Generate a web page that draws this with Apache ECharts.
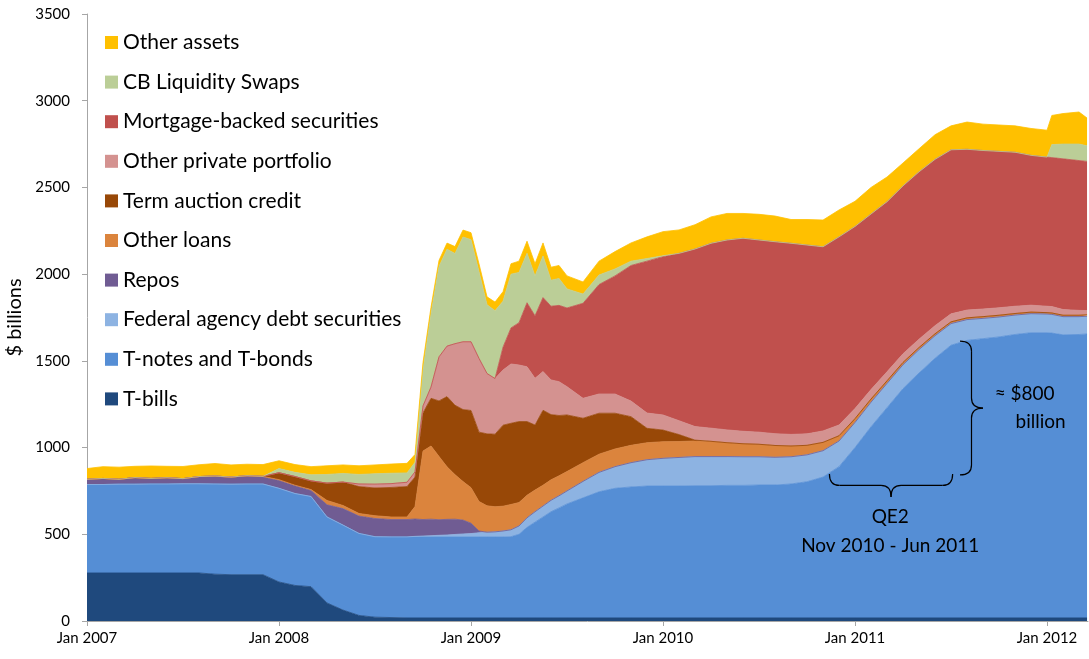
<!DOCTYPE html>
<html>
<head>
<meta charset="utf-8">
<title>Fed balance sheet assets</title>
<script src="https://cdn.jsdelivr.net/npm/echarts@6/dist/echarts.min.js"></script>
<style>
  html, body { margin: 0; padding: 0; background: #fff; }
  #chart { width: 1089px; height: 659px; }
</style>
</head>
<body>
<div id="chart"></div>
<script>
// x positions: months since Jan 2007 (semi-monthly through the 2008-09 crisis)
const months = [
  0, 1, 2, 3, 4, 5, 6, 7, 8, 9, 10, 11, 12, 13, 14, 15, 16, 17, 18, 19,
  20, 20.5, 21, 21.5, 22, 22.5, 23, 23.5, 24, 24.5, 25, 25.5, 26, 26.5, 27, 27.5, 28, 28.5, 29, 29.5, 30,
  31, 32, 33, 34, 35, 36, 37, 38, 39, 40, 41, 42, 43, 44, 45, 46, 47, 48, 49, 50,
  51, 52, 53, 54, 55, 56, 57, 58, 59, 60,
  60.3, 61, 62, 62.5
];
const yearTicks = [0, 12, 24, 36, 48, 60];

// $ billions, bottom layer first
const tBills = [
  277, 277, 277, 277, 277, 277, 277, 277, 270, 267, 267, 267, 225, 205, 198, 104, 63, 32, 22, 20,
  18, 18, 18, 18, 18, 18, 18, 18, 18, 18, 18, 18, 18, 18, 18, 18, 18, 18, 18, 18, 18,
  18, 18, 18, 18, 18, 18, 18, 18, 18, 18, 18, 18, 18, 18, 18, 18, 18, 18, 18, 18,
  18, 18, 18, 18, 18, 18, 18, 18, 18, 18,
  18, 18, 18, 18
];
const tNotes = [
  510, 510, 512, 512, 513, 513, 514, 514, 520, 522, 523, 523, 540, 530, 520, 496, 490, 473, 464, 465,
  467, 467, 467, 466, 466, 466, 466, 466, 466, 466, 466, 466, 466, 468, 482, 522, 552, 582, 612, 634, 657,
  692, 727, 747, 755, 760, 760, 760, 762, 762, 764, 764, 766, 766, 772, 785, 812, 872, 982, 1102, 1212,
  1322, 1412, 1497, 1572, 1600, 1610, 1620, 1634, 1644, 1644,
  1642, 1632, 1634, 1637
];
const agencyDebt = [
  0, 0, 0, 0, 0, 0, 0, 0, 0, 0, 0, 0, 0, 0, 0, 0, 0, 0, 0, 0,
  0, 3, 5, 8, 10, 12, 15, 18, 20, 25, 28, 30, 35, 40, 48, 55, 60, 63, 66, 70, 75,
  95, 112, 125, 140, 152, 160, 165, 168, 168, 166, 165, 163, 160, 157, 155, 152, 148, 145, 142, 140,
  138, 135, 130, 125, 120, 117, 115, 112, 110, 108,
  108, 105, 103, 102
];
const repos = [
  30, 35, 28, 38, 32, 36, 30, 40, 42, 38, 45, 40, 45, 45, 35, 70, 95, 100, 105, 100,
  100, 100, 95, 95, 90, 90, 88, 80, 60, 10, 0, 0, 0, 0, 0, 0, 0, 0, 0, 0, 0,
  0, 0, 0, 0, 0, 0, 0, 0, 0, 0, 0, 0, 0, 0, 0, 0, 0, 0, 0, 0,
  0, 0, 0, 0, 0, 0, 0, 0, 0, 0,
  0, 0, 0, 0
];
const otherLoans = [
  0, 0, 0, 0, 0, 0, 0, 2, 4, 3, 3, 4, 5, 3, 5, 25, 18, 15, 16, 15,
  15, 72, 395, 422, 365, 303, 257, 222, 205, 170, 152, 145, 143, 146, 135, 130, 125, 120, 118, 115, 112,
  108, 105, 102, 100, 98, 96, 92, 90, 88, 80, 75, 72, 68, 62, 55, 48, 30, 22, 18, 15,
  13, 12, 11, 10, 10, 10, 10, 9, 9, 8,
  8, 8, 8, 8
];
const termAuction = [
  0, 0, 0, 0, 0, 0, 0, 0, 0, 0, 0, 0, 40, 50, 50, 100, 135, 155, 160, 170,
  175, 170, 220, 275, 320, 405, 400, 415, 445, 400, 415, 418, 467, 468, 467, 425, 375, 432, 376, 348, 326,
  256, 236, 206, 165, 83, 67, 40, 5, 0, 0, 0, 0, 0, 0, 0, 0, 0, 0, 0, 0,
  0, 0, 0, 0, 0, 0, 0, 0, 0, 0,
  0, 0, 0, 0
];
const otherPrivate = [
  0, 0, 0, 0, 0, 0, 0, 0, 0, 0, 0, 0, 0, 0, 0, 0, 0, 15, 22, 22,
  25, 30, 40, 65, 254, 291, 355, 391, 396, 425, 348, 321, 318, 342, 326, 316, 269, 223, 200, 195, 163,
  115, 111, 111, 90, 88, 87, 80, 78, 76, 74, 72, 70, 68, 67, 66, 66, 62, 58, 55, 52,
  50, 48, 47, 46, 45, 44, 43, 42, 40, 37,
  37, 33, 28, 25
];
const mbs = [
  0, 0, 0, 0, 0, 0, 0, 0, 0, 0, 0, 0, 0, 0, 0, 0, 0, 0, 0, 0,
  0, 0, 0, 0, 0, 0, 0, 0, 0, 0, 0, 0, 132, 208, 244, 369, 361, 427, 425, 440, 454,
  548, 631, 681, 782, 876, 913, 965, 1024, 1066, 1095, 1113, 1108, 1107, 1102, 1089, 1062, 1085, 1050, 1012, 981,
  968, 965, 959, 946, 927, 914, 902, 888, 864, 860,
  859, 869, 864, 860
];
const cbSwaps = [
  0, 0, 0, 0, 0, 0, 0, 0, 0, 0, 0, 0, 24, 24, 35, 50, 50, 55, 60, 60,
  54, 55, 210, 425, 521, 559, 520, 604, 589, 500, 397, 391, 265, 310, 290, 285, 230, 240, 150, 155, 110,
  53, 55, 40, 25, 15, 5, 0, 0, 0, 0, 0, 0, 0, 0, 0, 0, 0, 0, 0, 0,
  0, 0, 0, 0, 0, 0, 0, 0, 0, 0,
  75, 85, 95, 90
];
const otherAssets = [
  62, 68, 70, 65, 72, 66, 70, 68, 72, 70, 66, 68, 45, 45, 47, 50, 49, 50, 51, 53,
  55, 45, 40, 35, 35, 35, 40, 40, 40, 45, 45, 50, 55, 60, 65, 70, 70, 75, 75, 75, 75,
  70, 80, 100, 105, 125, 139, 135, 140, 152, 153, 143, 148, 148, 137, 147, 154, 155, 145, 153, 142,
  132, 133, 142, 138, 157, 152, 152, 152, 155, 155,
  168, 176, 185, 160
];

const layers = [
  { name: "T-bills", values: tBills, color: "#1F497D" },
  { name: "T-notes and T-bonds", values: tNotes, color: "#558ED5" },
  { name: "Federal agency debt securities", values: agencyDebt, color: "#8DB3E2" },
  { name: "Repos", values: repos, color: "#705C93" },
  { name: "Other loans", values: otherLoans, color: "#DB843D" },
  { name: "Term auction credit", values: termAuction, color: "#984807" },
  { name: "Other private portfolio", values: otherPrivate, color: "#D49290" },
  { name: "Mortgage-backed securities", values: mbs, color: "#C0504D" },
  { name: "CB Liquidity Swaps", values: cbSwaps, color: "#BBCE97" },
  { name: "Other assets", values: otherAssets, color: "#FFC000" },
];

// QE2 annotation anchors, in chart units (month index, $ billions)
const qe2Brace = { from: 46.4, to: 54.1, value: 848 };
const amountBrace = { month: 54.56, from: 842, to: 1614 };
const notes = [
  { text: "QE2", month: 50.2, value: 600 },
  { text: "Nov 2010 - Jun 2011", month: 50.2, value: 432 },
  { text: "\u2248 $800", month: 58.6, value: 1309 },
  { text: "billion", month: 59.6, value: 1147 },
];

(function () {
  const FONT = "Lato, 'Open Sans', sans-serif";
  const chart = echarts.init(document.getElementById("chart"), null, { renderer: "canvas" });

  chart.setOption({
    animation: false,
    backgroundColor: "#fff",
    grid: { left: 87, right: 1, top: 14, bottom: 38, outerBoundsMode: "none" },
    legend: {
      orient: "vertical",
      left: 105,
      top: 32,
      padding: 0,
      icon: "rect",
      itemWidth: 13,
      itemHeight: 13,
      itemGap: 18.6,
      selectedMode: false,
      textStyle: { fontSize: 21, lineHeight: 20, color: "#000", fontFamily: FONT },
      data: layers.map((l) => l.name).reverse(),
    },
    xAxis: {
      type: "value",
      min: 0,
      max: 62.56,
      interval: 12,
      splitLine: { show: false },
      axisLine: { lineStyle: { color: "#A6A6A6" } },
      axisTick: { length: 5, lineStyle: { color: "#A6A6A6" }, customValues: yearTicks },
      axisLabel: {
        customValues: yearTicks,
        fontSize: 15,
        color: "#000",
        fontFamily: FONT,
        margin: 10,
        formatter: (v) => "Jan " + (2007 + Math.round(v / 12)),
      },
    },
    yAxis: {
      type: "value",
      min: 0,
      max: 3500,
      interval: 500,
      name: "$ billions",
      nameLocation: "middle",
      nameGap: 60,
      nameTextStyle: { fontSize: 20, color: "#000", fontFamily: FONT },
      splitLine: { show: false },
      axisLine: { show: true, lineStyle: { color: "#A6A6A6" } },
      axisTick: { show: true, length: 5, lineStyle: { color: "#A6A6A6" } },
      axisLabel: { fontSize: 15, color: "#000", fontFamily: FONT, margin: 17, formatter: (v) => String(v) },
    },
    // value first so that the stacked dimension is the y value (stacked by index)
    series: layers.map((l) => ({
      name: l.name,
      type: "line",
      stack: "assets",
      symbol: "none",
      silent: true,
      emphasis: { disabled: true },
      encode: { x: 1, y: 0 },
      itemStyle: { color: l.color },
      lineStyle: { width: 0.8, color: l.color },
      areaStyle: { color: l.color, opacity: 1 },
      data: months.map((m, i) => [l.values[i], m]),
    })),
  });

  // braces + labels placed through the chart's own scales
  const px = (month, value) => chart.convertToPixel({ gridIndex: 0 }, [month, value]);
  const braceStyle = { stroke: "#000", lineWidth: 1.2, fill: null };

  // each segment: [x1, y1, x2, y2] line, or [x1, y1, x2, y2, cpx, cpy] quadratic curve
  function segs(list) {
    return list.map((s) =>
      s.length === 4
        ? { type: "line", z: 100, silent: true, shape: { x1: s[0], y1: s[1], x2: s[2], y2: s[3] }, style: braceStyle }
        : {
            type: "bezierCurve",
            z: 100,
            silent: true,
            shape: { x1: s[0], y1: s[1], x2: s[2], y2: s[3], cpx1: s[4], cpy1: s[5] },
            style: braceStyle,
          }
    );
  }
  function hBrace(x1, x2, y0, h) {
    const xm = (x1 + x2) / 2, r = 10, ym = y0 + h / 2;
    return segs([
      [x1, y0, x1 + r, ym, x1, ym],
      [x1 + r, ym, xm - r, ym],
      [xm - r, ym, xm, y0 + h, xm, ym],
      [xm, y0 + h, xm + r, ym, xm, ym],
      [xm + r, ym, x2 - r, ym],
      [x2 - r, ym, x2, y0, x2, ym],
    ]);
  }
  function vBrace(x0, y1, y2, w) {
    const ym = (y1 + y2) / 2, r = 10, xm = x0 + w / 2;
    return segs([
      [x0, y1, xm, y1 + r, xm, y1],
      [xm, y1 + r, xm, ym - r],
      [xm, ym - r, x0 + w, ym, xm, ym],
      [x0 + w, ym, xm, ym + r, xm, ym],
      [xm, ym + r, xm, y2 - r],
      [xm, y2 - r, x0, y2, xm, y2],
    ]);
  }

  const a = px(qe2Brace.from, qe2Brace.value);
  const b = px(qe2Brace.to, qe2Brace.value);
  const braceTop = px(amountBrace.month, amountBrace.to);
  const braceBot = px(amountBrace.month, amountBrace.from);

  const graphics = hBrace(a[0], b[0], a[1], 23)
    .concat(vBrace(braceTop[0], braceTop[1], braceBot[1], 23))
    .concat(
      notes.map((n) => {
        const p = px(n.month, n.value);
        return {
          type: "text",
          z: 100,
          x: p[0],
          y: p[1],
          silent: true,
          style: {
            text: n.text,
            fontSize: 19,
            fontFamily: FONT,
            fill: "#000",
            align: "center",
            verticalAlign: "middle",
          },
        };
      })
    );

  chart.setOption({ graphic: graphics });
})();
</script>
</body>
</html>
